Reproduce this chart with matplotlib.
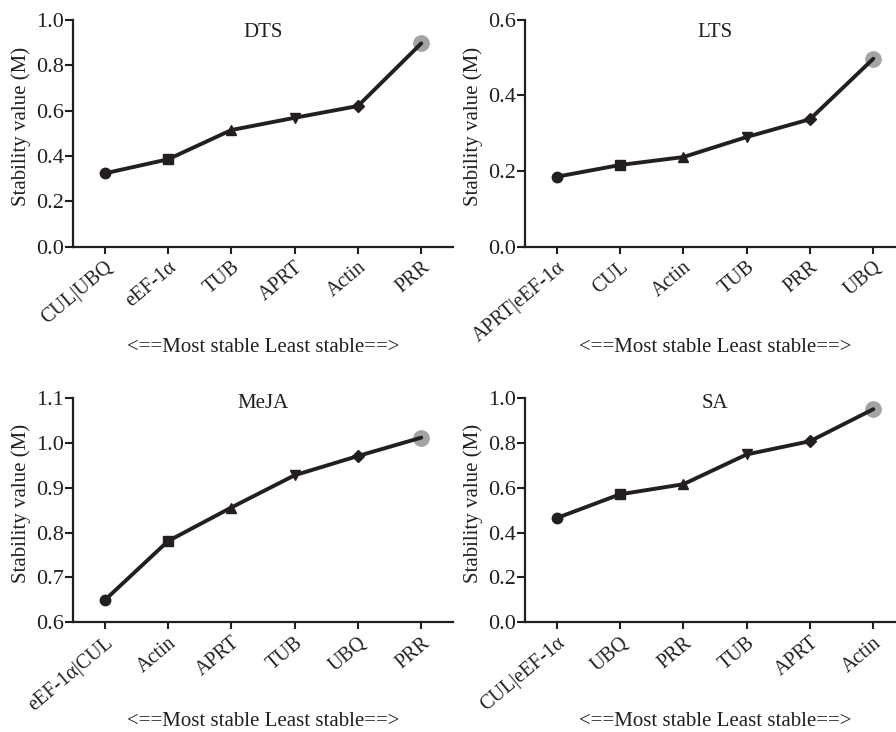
import matplotlib
matplotlib.use("Agg")
import matplotlib.pyplot as plt

plt.rcParams["font.family"] = ["Liberation Serif", "DejaVu Serif"]

# values (geNorm M values, most -> least stable)
dts_genes = ["CUL|UBQ", "eEF-1α", "TUB", "APRT", "Actin", "PRR"]
dts_m = [0.323, 0.385, 0.514, 0.568, 0.620, 0.896]

lts_genes = ["APRT|eEF-1α", "CUL", "Actin", "TUB", "PRR", "UBQ"]
lts_m = [0.185, 0.216, 0.237, 0.290, 0.337, 0.497]

meja_genes = ["eEF-1α|CUL", "Actin", "APRT", "TUB", "UBQ", "PRR"]
meja_m = [0.649, 0.781, 0.856, 0.928, 0.971, 1.012]

sa_genes = ["CUL|eEF-1α", "UBQ", "PRR", "TUB", "APRT", "Actin"]
sa_m = [0.465, 0.571, 0.616, 0.749, 0.808, 0.951]

panels = [
    ("DTS", dts_genes, dts_m, (0.0, 1.0), [0.0, 0.2, 0.4, 0.6, 0.8, 1.0]),
    ("LTS", lts_genes, lts_m, (0.0, 0.6), [0.0, 0.2, 0.4, 0.6]),
    ("MeJA", meja_genes, meja_m, (0.6, 1.1), [0.6, 0.7, 0.8, 0.9, 1.0, 1.1]),
    ("SA", sa_genes, sa_m, (0.0, 1.0), [0.0, 0.2, 0.4, 0.6, 0.8, 1.0]),
]

positions = [
    [0.0815, 0.663, 0.424, 0.310],
    [0.586, 0.663, 0.424, 0.310],
    [0.0815, 0.150, 0.424, 0.306],
    [0.586, 0.150, 0.424, 0.306],
]
title_y = [0.945, 0.945, 0.975, 0.975]

ink = "#231f20"
markers = ["o", "s", "^", "v", "D"]

fig = plt.figure(figsize=(8.96, 7.32), dpi=100)

for (name, genes, vals, ylim, yticks), pos, ty in zip(panels, positions, title_y):
    ax = fig.add_axes(pos)
    x = list(range(len(genes)))
    ax.plot(x, vals, color=ink, lw=2.8, zorder=3, solid_capstyle="round")
    for i, m in enumerate(markers):
        ms = 6 if m == "D" else 7.5
        ax.plot(x[i], vals[i], marker=m, color=ink, ms=ms, zorder=4)
    # least stable gene highlighted in grey
    ax.plot(x[-1], vals[-1], marker="o", color="#a3a3a3", ms=11, zorder=2)

    ax.set_xlim(-0.5, 5.5)
    ax.set_ylim(*ylim)
    ax.set_yticks(yticks)
    ax.set_yticklabels([f"{t:.1f}" for t in yticks])
    ax.set_xticks(x)
    ax.set_xticklabels(genes, rotation=40, ha="right", rotation_mode="anchor")
    ax.tick_params(axis="y", labelsize=16, width=1.5, length=6, color=ink,
                   labelcolor=ink, pad=0.5)
    ax.tick_params(axis="x", labelsize=14.5, width=1.5, length=5, color=ink,
                   labelcolor=ink, pad=3)
    for s in ["top", "right"]:
        ax.spines[s].set_visible(False)
    for s in ["left", "bottom"]:
        ax.spines[s].set_linewidth(1.6)
        ax.spines[s].set_color(ink)
    ax.set_ylabel("Stability value (M)", fontsize=15, color=ink)
    ax.yaxis.set_label_coords(-0.11, 0.53)
    ax.text(0.5, ty, name, transform=ax.transAxes, ha="center", va="center",
            fontsize=15, color=ink)
    ax.text(0.5, -0.445, "<==Most stable Least stable==>", transform=ax.transAxes,
            ha="center", va="center", fontsize=15, color=ink)

fig.savefig("out.png", dpi=100)
